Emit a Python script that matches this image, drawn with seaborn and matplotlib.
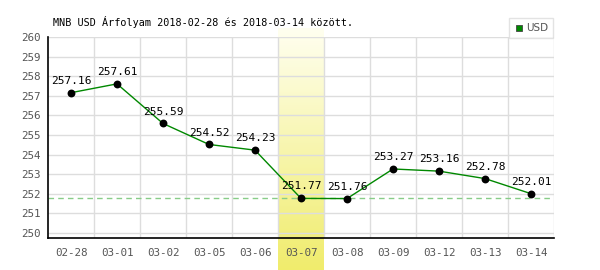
import numpy as np
import pandas as pd
import matplotlib
matplotlib.use("Agg")
import matplotlib.pyplot as plt
import seaborn as sns
from matplotlib.lines import Line2D

dates = ["02-28", "03-01", "03-02", "03-05", "03-06", "03-07", "03-08", "03-09", "03-12", "03-13", "03-14"]
rates = [257.16, 257.61, 255.59, 254.52, 254.23, 251.77, 251.76, 253.27, 253.16, 252.78, 252.01]
highlight = "03-07"
ref_value = 251.77
title = "MNB USD Árfolyam 2018-02-28 és 2018-03-14 között."
series_name = "USD"
yticks = list(range(250, 261))

df = pd.DataFrame({"date": dates, "rate": rates})

sns.set_style("white")
plt.rcParams["font.family"] = ["DejaVu Sans Mono", "DejaVu Sans"]

fig = plt.figure(figsize=(6, 2.7), dpi=100)
ax = fig.add_axes([48/600, 1-238/270, (554-48)/600, (238-37)/270])

ylo, yhi = 249.75, 260.0
xlo, xhi = -0.5, len(dates) - 0.5

# highlight band with vertical gradient, extending beyond axes
hi = dates.index(highlight)
px = (yhi - ylo) / (238 - 37)
band_top = yhi + (37 - 28) * px
band_bot = ylo - (270 - 238) * px
grad = np.linspace(0, 1, 256)[:, None]
top_c = np.array([255, 255, 240]) / 255
bot_c = np.array([240, 236, 108]) / 255
img = top_c[None, None, :] * (1 - grad[:, :, None]) + bot_c[None, None, :] * grad[:, :, None]
ax.imshow(img, extent=(hi - 0.5, hi + 0.5, band_bot, band_top), origin="upper",
          aspect="auto", clip_on=False, zorder=0)

# grid
for y in yticks:
    ax.axhline(y, color="#dddddd", lw=1, zorder=1)
for i in range(len(dates)):
    ax.axvline(i + 0.5, color="#dddddd", lw=1, zorder=1)

ax.axhline(ref_value, color="#88cc88", lw=1, ls=(0, (4, 3)), zorder=2)

sns.lineplot(data=df, x="date", y="rate", ax=ax, color="#008800", lw=1, zorder=3, sort=False)
sns.scatterplot(data=df, x="date", y="rate", ax=ax, color="black", s=32, zorder=4, edgecolor="black", linewidth=0)

for i, v in enumerate(rates):
    ax.annotate(f"{v:.2f}", (i, v), xytext=(0, 5), textcoords="offset points",
                ha="center", va="bottom", fontsize=8, color="black", zorder=5)

ax.set_xlim(xlo, xhi)
ax.set_ylim(ylo, yhi)
ax.set_yticks(yticks)
ax.set_xticks(range(len(dates)))
ax.set_xticklabels(dates)
ax.set_xlabel("")
ax.set_ylabel("")
ax.tick_params(axis="both", length=0, labelsize=7.8, colors="#555555")
ax.tick_params(axis="x", pad=7)
ax.tick_params(axis="y", pad=5)

for s in ["top", "right"]:
    ax.spines[s].set_visible(False)
for s in ["left", "bottom"]:
    ax.spines[s].set_color("black")
    ax.spines[s].set_linewidth(1.2)
ax.set_facecolor("none")

fig.text(53/600, 1-22/270, title, fontsize=7.25, color="black", va="center", ha="left")

handle = Line2D([], [], marker="s", color="#008800", markeredgecolor="#444444",
                markeredgewidth=0.6, ls="none", markersize=5)
leg = fig.legend([handle], [series_name], loc="upper right", bbox_to_anchor=(553/600, 1-18/270),
                 frameon=True, fancybox=False, fontsize=7.5, handletextpad=0.1,
                 borderpad=0.5, handlelength=1.0, borderaxespad=0)
leg.get_frame().set_edgecolor("#dddddd")
leg.get_frame().set_linewidth(1)
for t in leg.get_texts():
    t.set_color("#555555")
    t.set_family("DejaVu Sans")

fig.savefig("out.png", dpi=100)
